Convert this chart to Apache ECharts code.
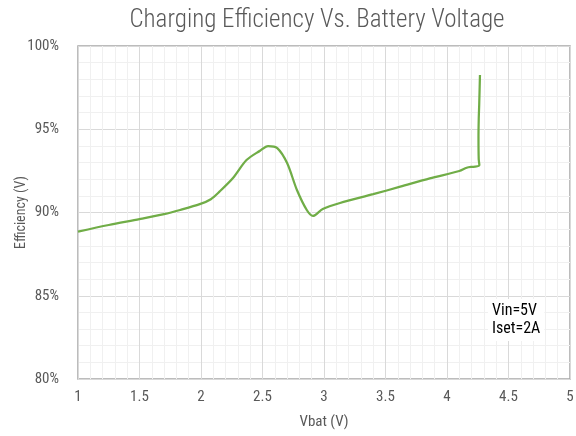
<!DOCTYPE html>
<html><head><meta charset="utf-8">
<script src="https://cdn.jsdelivr.net/npm/echarts@6/dist/echarts.min.js"></script>
<style>html,body{margin:0;padding:0;background:#fff}#c{width:576px;height:436px}</style>
</head><body><div id="c"></div>
<script>
const vbat = [1.0, 1.25, 1.5, 1.7, 1.83, 1.99, 2.08, 2.15, 2.26, 2.37, 2.48, 2.545, 2.62, 2.70, 2.78, 2.86, 2.91, 2.99, 3.13, 3.4, 3.62, 3.86, 4.1, 4.16, 4.2, 4.23, 4.263, 4.258, 4.256, 4.258, 4.262, 4.268];
const efficiency = [88.85, 89.25, 89.6, 89.9, 90.15, 90.5, 90.8, 91.25, 92.07, 93.15, 93.71, 93.99, 93.87, 92.97, 91.35, 90.15, 89.79, 90.21, 90.57, 91.1, 91.55, 92.05, 92.49, 92.69, 92.74, 92.75, 92.85, 93.2, 94.5, 95.6, 96.5, 98.26];
const xTicks = [1, 1.5, 2, 2.5, 3, 3.5, 4, 4.5, 5];
const yTicks = [80, 85, 90, 95, 100];
const noteLines = ['Vin=5V', 'Iset=2A'];

const FONT = "'Roboto Condensed','Liberation Sans Narrow',sans-serif";
const chart = echarts.init(document.getElementById('c'), null, {renderer: 'canvas'});
chart.setOption({
  animation: false,
  backgroundColor: '#fff',
  title: {
    text: 'Charging Efficiency Vs. Battery Voltage',
    left: 312, top: 3, textAlign: 'center',
    textStyle: {fontFamily: FONT, fontSize: 25, fontWeight: 300, color: '#595959'}
  },
  grid: {left: 78, right: 6, top: 46, bottom: 57, show: true, borderColor: '#a6a6a6', borderWidth: 1.5, outerBoundsMode: 'none', containLabel: false},
  xAxis: {
    type: 'value', min: xTicks[0], max: xTicks[xTicks.length - 1], interval: 0.5,
    name: 'Vbat (V)', nameLocation: 'middle', nameGap: 36, nameMoveOverlap: false,
    nameTextStyle: {fontFamily: FONT, fontSize: 15, color: '#595959'},
    axisLine: {show: false}, axisTick: {show: false},
    axisLabel: {fontFamily: FONT, fontSize: 15, color: '#595959', margin: 11},
    splitLine: {show: true, lineStyle: {color: '#d9d9d9', width: 1}},
    minorTick: {show: false, splitNumber: 5},
    minorSplitLine: {show: true, lineStyle: {color: '#f0f0f0', width: 1}}
  },
  yAxis: {
    type: 'value', min: yTicks[0], max: yTicks[yTicks.length - 1], interval: 5,
    name: 'Efficiency (V)', nameLocation: 'middle', nameGap: 50, nameRotate: 90, nameMoveOverlap: false,
    nameTextStyle: {fontFamily: FONT, fontSize: 14, color: '#595959'},
    axisLine: {show: false}, axisTick: {show: false},
    axisLabel: {fontFamily: FONT, fontSize: 15, color: '#595959', margin: 19, formatter: v => v + '%'},
    splitLine: {show: true, lineStyle: {color: '#d9d9d9', width: 1}},
    minorTick: {show: false, splitNumber: 5},
    minorSplitLine: {show: true, lineStyle: {color: '#f0f0f0', width: 1}}
  },
  graphic: [{
    type: 'text', left: 488, top: 299, z: 100,
    style: {text: noteLines.join('\n'), font: "16px 'Roboto Condensed'", lineHeight: 18, fill: '#000',
            backgroundColor: '#fff', padding: [3, 4, 3, 4]}
  }],
  series: [{
    type: 'line',
    data: vbat.map((v, i) => [v, efficiency[i]]),
    smooth: 0.3, showSymbol: false,
    lineStyle: {color: '#70AD47', width: 2.25}
  }]
});
</script></body></html>
